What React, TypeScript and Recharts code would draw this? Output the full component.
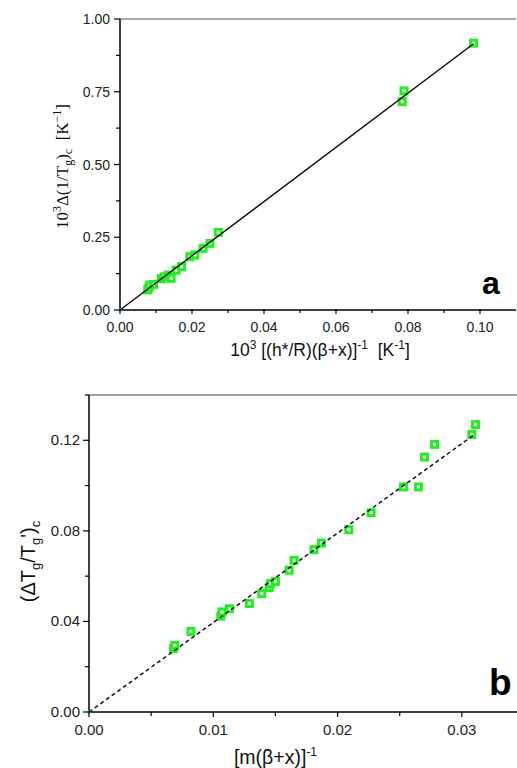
import { ScatterChart, Scatter, XAxis, YAxis, ReferenceLine, Label } from "recharts";

// panel a: 10^3 [(h*/R)(β+x)]^-1 vs 10^3 Δ(1/Tg)c
const aX = [0.0077, 0.008, 0.0083, 0.0093, 0.0115, 0.0123, 0.0134, 0.0142, 0.0156, 0.0171, 0.0194, 0.0208, 0.0231, 0.025, 0.0273, 0.0784, 0.0789, 0.0982];
const aY = [0.069, 0.076, 0.086, 0.088, 0.108, 0.114, 0.12, 0.109, 0.137, 0.149, 0.183, 0.189, 0.212, 0.229, 0.267, 0.716, 0.753, 0.917];
const aFitX = [0, 0.0982];
const aFitY = [0, 0.915];

// panel b: [m(β+x)]^-1 vs (ΔTg/Tg')c
const bX = [0.0068, 0.0069, 0.0082, 0.0106, 0.0107, 0.0113, 0.0129, 0.0139, 0.0145, 0.0146, 0.015, 0.0161, 0.0165, 0.0181, 0.0187, 0.0209, 0.0227, 0.0253, 0.0265, 0.027, 0.0278, 0.0308, 0.0311];
const bY = [0.028, 0.0294, 0.0356, 0.0423, 0.0442, 0.0456, 0.0479, 0.0523, 0.0549, 0.0567, 0.0577, 0.0626, 0.067, 0.0717, 0.0746, 0.0805, 0.088, 0.0994, 0.0994, 0.1126, 0.1182, 0.1226, 0.1269];
const bFitX = [0, 0.031];
const bFitY = [0, 0.1225];

const origin = [{ x: 0, y: 0 }];

const aTicksX = [0, 0.01, 0.02, 0.03, 0.04, 0.05, 0.06, 0.07, 0.08, 0.09, 0.1];
const aMajorX = [0, 0.02, 0.04, 0.06, 0.08, 0.1];
const aTicksY = [0, 0.125, 0.25, 0.375, 0.5, 0.625, 0.75, 0.875, 1];
const aMajorY = [0, 0.25, 0.5, 0.75, 1];
const bTicksX = [0, 0.005, 0.01, 0.015, 0.02, 0.025, 0.03, 0.035];
const bMajorX = [0, 0.01, 0.02, 0.03];
const bTicksY = [0, 0.02, 0.04, 0.06, 0.08, 0.1, 0.12, 0.14];
const bMajorY = [0, 0.04, 0.08, 0.12];

const GREEN = "#22ee22";
const SANS = '"Liberation Sans", Arial, sans-serif';
const SERIF = '"Liberation Serif", "Times New Roman", serif';

const zip = (xs: number[], ys: number[]) => xs.map((x, i) => ({ x, y: ys[i] }));
const isMajor = (list: number[], v: number) => list.some((m) => Math.abs(m - v) < 1e-9);

const Square = (p: any) => (
  <rect x={p.cx - 3} y={p.cy - 3} width={6} height={6} fill="#fff" stroke={GREEN} strokeWidth={3} />
);
const Dot = (p: any) => <rect x={p.cx - 1.5} y={p.cy - 1.5} width={3} height={3} fill={GREEN} />;
const NoShape = () => <g />;

function xTick(majors: number[], fs: number, len: number, minorLen: number, gap: number) {
  return (p: any) => {
    const v = p.payload.value;
    const major = isMajor(majors, v);
    return (
      <g>
        <line x1={p.x} x2={p.x} y1={p.y} y2={p.y + (major ? len : minorLen)} stroke="#000" strokeWidth={1.2} />
        {major && (
          <text x={p.x} y={p.y + gap} textAnchor="middle" fontSize={fs} fontFamily={SANS} fill="#222">
            {v.toFixed(2)}
          </text>
        )}
      </g>
    );
  };
}

function yTick(majors: number[], fs: number, len: number, minorLen: number, gap: number) {
  return (p: any) => {
    const v = p.payload.value;
    const major = isMajor(majors, v);
    return (
      <g>
        <line x1={p.x} x2={p.x - (major ? len : minorLen)} y1={p.y} y2={p.y} stroke="#000" strokeWidth={1.2} />
        {major && (
          <text x={p.x - gap} y={p.y + 5} textAnchor="end" fontSize={fs} fontFamily={SANS} fill="#222">
            {v.toFixed(2)}
          </text>
        )}
      </g>
    );
  };
}

const axisLine = { stroke: "#000", strokeWidth: 1.5 };

export default function App() {
  const dataA = zip(aX, aY);
  const fitA = zip(aFitX, aFitY);
  const dataB = zip(bX, bY);
  const fitB = zip(bFitX, bFitY);

  return (
    <div style={{ position: "absolute", left: 0, top: 0, width: 517, height: 768, overflow: "hidden", background: "#fff" }}>
      <div style={{ position: "absolute", left: 0, top: 0 }}>
        <ScatterChart width={517} height={370} margin={{ top: 19, right: 1, left: 0, bottom: 0 }}>
          <XAxis
            type="number"
            dataKey="x"
            domain={[0, 0.11]}
            ticks={aTicksX}
            interval={0}
            height={60}
            axisLine={axisLine}
            tickLine={false}
            tickSize={0}
            tickMargin={0}
            tick={xTick(aMajorX, 14, 4, 3, 22)}
          >
            <Label
              content={(p: any) => {
                const vb = p.viewBox;
                return (
                  <text x={vb.x + vb.width / 2 + 2} y={vb.y + 46} textAnchor="middle" fontSize={17.5} fontFamily={SANS} fill="#111">
                    <tspan>10</tspan>
                    <tspan dy={-7} fontSize={12}>3</tspan>
                    <tspan dy={7}>{"\u00a0[(h*/R)(β+x)]"}</tspan>
                    <tspan dy={-7} fontSize={12}>-1</tspan>
                    <tspan dy={7}>{"\u00a0\u00a0[K"}</tspan>
                    <tspan dy={-7} fontSize={12}>-1</tspan>
                    <tspan dy={7}>]</tspan>
                  </text>
                );
              }}
            />
          </XAxis>
          <YAxis
            type="number"
            dataKey="y"
            domain={[0, 1]}
            ticks={aTicksY}
            interval={0}
            width={120}
            axisLine={axisLine}
            tickLine={false}
            tickSize={0}
            tickMargin={0}
            tick={yTick(aMajorY, 14, 6, 4, 10)}
          >
            <Label
              content={(p: any) => {
                const vb = p.viewBox;
                const cx = vb.x + 68;
                const cy = vb.y + vb.height / 2 + 2;
                return (
                  <text x={cx} y={cy} transform={`rotate(-90, ${cx}, ${cy})`} textAnchor="middle" fontSize={17} fontFamily={SERIF} fill="#111">
                    <tspan>10</tspan>
                    <tspan dy={-7} fontSize={12}>3</tspan>
                    <tspan dy={7}>Δ(1/T</tspan>
                    <tspan dy={4} fontSize={12}>g</tspan>
                    <tspan dy={-4}>)</tspan>
                    <tspan dy={4} fontSize={12}>c</tspan>
                    <tspan dy={-4}>{"\u00a0\u00a0[K"}</tspan>
                    <tspan dy={-7} fontSize={12}>−1</tspan>
                    <tspan dy={7}>]</tspan>
                  </text>
                );
              }}
            />
          </YAxis>
          <ReferenceLine y={1} stroke="#555" strokeWidth={1.2} />
          <Scatter data={origin} shape={Dot} isAnimationActive={false} />
          <Scatter data={dataA} shape={Square} isAnimationActive={false} />
          <Scatter data={fitA} shape={NoShape} line={{ stroke: "#000", strokeWidth: 1.3 }} isAnimationActive={false} />
        </ScatterChart>
      </div>

      <div style={{ position: "absolute", left: 0, top: 385 }}>
        <ScatterChart width={524} height={383} margin={{ top: 10, right: 0, left: 0, bottom: 0 }}>
          <XAxis
            type="number"
            dataKey="x"
            domain={[0, 0.035]}
            ticks={bTicksX}
            interval={0}
            height={56}
            axisLine={axisLine}
            tickLine={false}
            tickSize={0}
            tickMargin={0}
            tick={xTick(bMajorX, 15, 5, 4, 23)}
          >
            <Label
              content={(p: any) => {
                const vb = p.viewBox;
                return (
                  <text x={vb.x + vb.width / 2 - 31} y={vb.y + 52} textAnchor="middle" fontSize={19.5} fontFamily={SANS} fill="#111">
                    <tspan>[m(β+x)]</tspan>
                    <tspan dy={-8} fontSize={12}>-1</tspan>
                  </text>
                );
              }}
            />
          </XAxis>
          <YAxis
            type="number"
            dataKey="y"
            domain={[0, 0.14]}
            ticks={bTicksY}
            interval={0}
            width={89}
            axisLine={axisLine}
            tickLine={false}
            tickSize={0}
            tickMargin={0}
            tick={yTick(bMajorY, 15, 6, 4, 9)}
          >
            <Label
              content={(p: any) => {
                const vb = p.viewBox;
                const cx = vb.x + 35;
                const cy = vb.y + vb.height / 2 + 8;
                return (
                  <text x={cx} y={cy} transform={`rotate(-90, ${cx}, ${cy})`} textAnchor="middle" fontSize={20} fontFamily={SANS} fill="#111">
                    <tspan>(ΔT</tspan>
                    <tspan dy={5} fontSize={13}>g</tspan>
                    <tspan dy={-5}>/T</tspan>
                    <tspan dy={5} fontSize={13}>g</tspan>
                    <tspan dy={-5}>')</tspan>
                    <tspan dy={5} fontSize={13}>c</tspan>
                  </text>
                );
              }}
            />
          </YAxis>
          <ReferenceLine y={0.14} stroke="#444" strokeWidth={1.2} />
          <Scatter data={origin} shape={Dot} isAnimationActive={false} />
          <Scatter data={dataB} shape={Square} isAnimationActive={false} />
          <Scatter data={fitB} shape={NoShape} line={{ stroke: "#111", strokeWidth: 1.5, strokeDasharray: "4 3" }} isAnimationActive={false} />
        </ScatterChart>
      </div>

      <span style={{ position: "absolute", left: 482, top: 267, fontFamily: SANS, fontWeight: 700, fontSize: 32, lineHeight: "32px", color: "#000" }}>a</span>
      <span style={{ position: "absolute", left: 489, top: 664, fontFamily: SANS, fontWeight: 700, fontSize: 37, lineHeight: "37px", color: "#000" }}>b</span>
    </div>
  );
}
